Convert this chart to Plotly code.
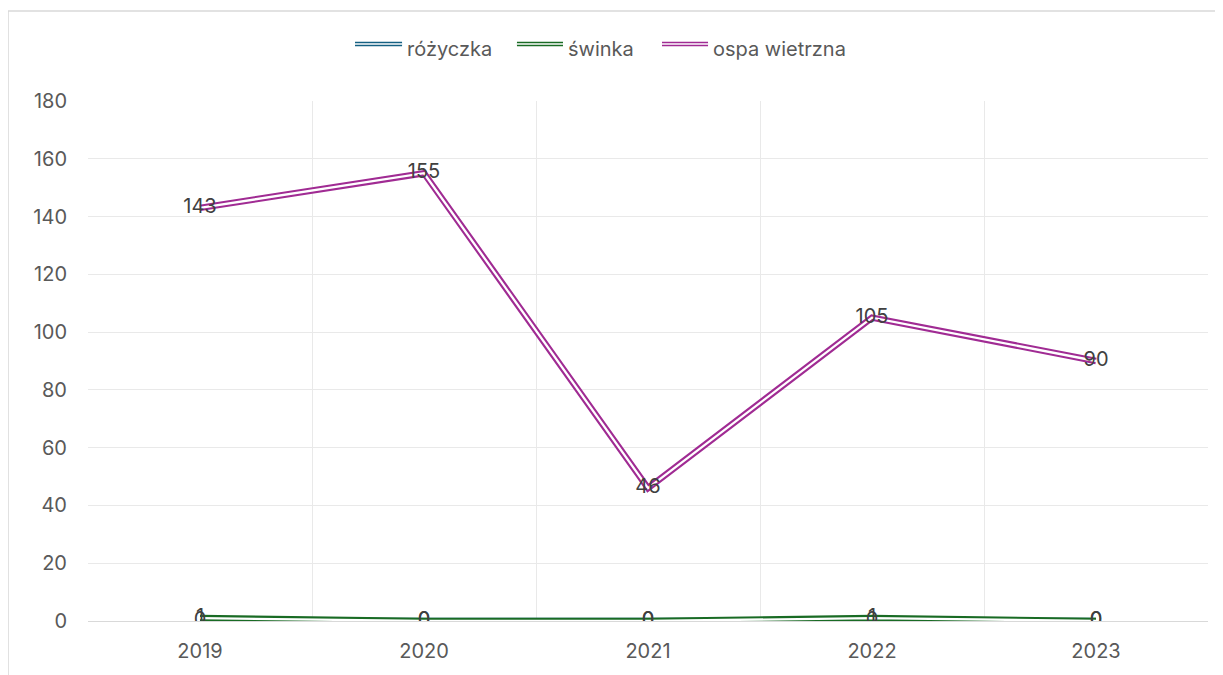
import plotly.graph_objects as go

years = [2019, 2020, 2021, 2022, 2023]
rozyczka = [0, 0, 0, 0, 0]
swinka = [1, 0, 0, 1, 0]
ospa = [143, 155, 46, 105, 90]

series = [
    ("różyczka", rozyczka, "#156082"),
    ("świnka", swinka, "#196B24"),
    ("ospa wietrzna", ospa, "#A02B93"),
]

fig = go.Figure()

# Excel "double" line: thick colour line with a thin white line on top
for name, vals, col in series:
    fig.add_trace(go.Scatter(x=years, y=vals, mode="lines", name=name,
                             line=dict(color=col, width=6.5)))
    fig.add_trace(go.Scatter(x=years, y=vals, mode="lines", showlegend=False,
                             hoverinfo="skip", line=dict(color="white", width=2.3)))

# data labels on top of everything
for name, vals, col in series:
    fig.add_trace(go.Scatter(x=years, y=vals, mode="text", showlegend=False,
                             text=[str(v) for v in vals], textposition="middle center",
                             textfont=dict(size=20, color="#404040")))

# hand-made legend so the keys can be double lines too
legend_x = [(0.2384, 0.2804, 0.2830), (0.3830, 0.4241, 0.4268), (0.5125, 0.5536, 0.5563)]
for (name, vals, col), (x0, x1, xt) in zip(series, legend_x):
    fig.add_shape(type="line", xref="paper", yref="paper", x0=x0, x1=x1, y0=1.1096, y1=1.1096,
                  line=dict(color=col, width=4.5))
    fig.add_shape(type="line", xref="paper", yref="paper", x0=x0, x1=x1, y0=1.1096, y1=1.1096,
                  line=dict(color="white", width=1.4))
    fig.add_annotation(xref="paper", yref="paper", x=xt, y=1.1, text=name, showarrow=False,
                       xanchor="left", yanchor="middle", font=dict(size=20, color="#595959"))

# page has an 8px body margin, so the figure is a bit smaller than the window
fig.update_layout(
    width=1215, height=667,
    margin=dict(l=80, r=15, t=93, b=54),
    paper_bgcolor="white", plot_bgcolor="white",
    font=dict(family="Inter, Open Sans, sans-serif", color="#595959", size=20),
    showlegend=False,
)
fig.update_xaxes(
    range=[2018.5, 2023.5], tickvals=years, ticktext=[str(y) for y in years],
    showgrid=False, zeroline=False, showline=True, linecolor="#d9d9d9", linewidth=1,
    ticks="", ticklabelstandoff=12,
    minor=dict(tick0=2018.5, dtick=1, showgrid=True, gridcolor="#e9e9e9", gridwidth=1),
)
fig.update_yaxes(
    range=[0, 180], dtick=20, showgrid=True, gridcolor="#e9e9e9", gridwidth=1,
    zeroline=False, showline=False, ticks="", ticklabelstandoff=20,
)

# outer chart border
fig.add_shape(type="rect", xref="paper", yref="paper",
              x0=-0.0714, x1=1.2, y0=-0.3, y1=1.173,
              line=dict(color="#d9d9d9", width=1.5), layer="below")

fig.write_html("out.html")
